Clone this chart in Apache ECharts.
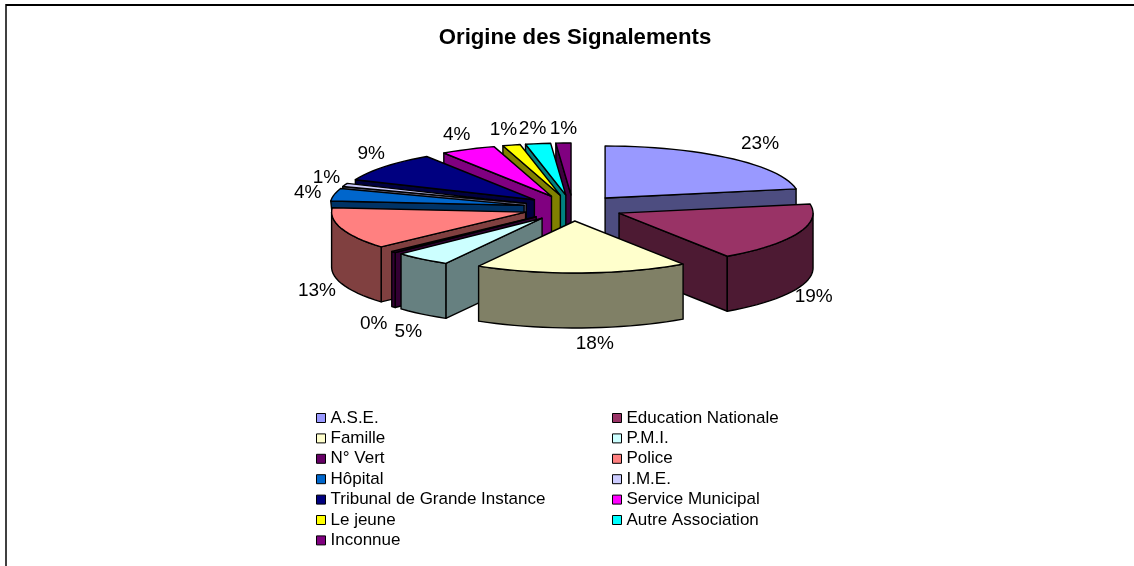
<!DOCTYPE html>
<html><head><meta charset="utf-8">
<style>html,body{margin:0;padding:0;background:#fff}#c{width:1134px;height:566px}</style>
<script src="https://cdn.jsdelivr.net/npm/echarts@6/dist/echarts.min.js"></script>
</head><body><div id="c"></div>
<script>
const categories = ['A.S.E.','Education Nationale','Famille','P.M.I.','N° Vert','Police','Hôpital','I.M.E.','Tribunal de Grande Instance','Service Municipal','Le jeune','Autre Association','Inconnue'];
const values = [22.6,18.5,17.5,4.6,0.4,12.6,3.8,1.0,9.0,4.4,1.4,2.0,1.2];
const colors = ['#9999FF','#993366','#FFFFCC','#CCFFFF','#660066','#FF8080','#0066CC','#CCCCFF','#000080','#FF00FF','#FFFF00','#00FFFF','#800080'];
const sideColors = ['#4D4D80','#4D1A33','#808066','#668080','#330033','#804040','#003366','#666680','#000040','#800080','#808000','#008080','#400040'];
const paintOrder = [12,11,10,9,8,7,6,5,4,3,0,1,2];
const labelNudgeX = [15,-6,12,1,-2,-2,-3,4,5,-1,-2,-2,1];
const labelNudgeY = [-2,2,0,5,6,2,1,-1,-3,0,0,1,2];

const CX=573, CY=208, RX=194, RY=52, DEPTH=55, EX=50, EY=13, LRX=218, LRY=68, WARP=3.5;
const total = values.reduce((a,b)=>a+b,0);
const cum=[]; values.reduce((a,v,i)=>{cum[i]=a;return a+v;},0);
const rad=d=>d*Math.PI/180;
// The reference's 3-D view pulls angles slightly towards the viewer side.
const view=d=>d-WARP*Math.sin(rad(d/2));

function pieceOf(i){
  const a0=view(cum[i]/total*360), a1=view((cum[i]+values[i])/total*360), mid=(a0+a1)/2;
  const ax=CX+EX*Math.sin(rad(mid)), ay=CY-EY*Math.cos(rad(mid));
  const pt=d=>[ax+RX*Math.sin(rad(d)), ay-RY*Math.cos(rad(d))];
  const down=p=>[p[0],p[1]+DEPTH];
  const n=Math.max(2,Math.ceil((a1-a0)/3));
  const arc=[]; for(let k=0;k<=n;k++) arc.push(a0+(a1-a0)*k/n);
  return {a0,a1,mid,ax,ay,pt,down,arc};
}
function poly(points,fill){
  return {type:'polygon',shape:{points},style:{fill,stroke:'#000',lineWidth:1.4,lineJoin:'round'}};
}
function renderSlice(i){
  const s=pieceOf(i), A=[s.ax,s.ay], top=colors[i], side=sideColors[i];
  const P0=s.pt(s.a0), P1=s.pt(s.a1);
  const kids=[];
  if(Math.sin(rad(s.a0))<0){
    // A wall just behind the pie's leftmost edge is tucked in so its outline does not double that edge.
    const foot=s.down(P0);
    if(s.a0>270&&s.a0<285) foot[0]+=6;
    kids.push(poly([A,P0,foot,s.down(A)],side));
  }
  if(Math.sin(rad(s.a1))>0) kids.push(poly([A,P1,s.down(P1),s.down(A)],side));
  const f=s.arc.filter(d=>d>=90&&d<=270);
  const lo=Math.max(s.a0,90), hi=Math.min(s.a1,270);
  if(hi>lo){
    const ds=[lo,...f.filter(d=>d>lo&&d<hi),hi];
    const upper=ds.map(s.pt), lower=ds.map(d=>s.down(s.pt(d))).reverse();
    kids.push(poly(upper.concat(lower),side));
  }
  kids.push(poly([A].concat(s.arc.map(s.pt)),top));
  const c=Math.cos(rad(s.mid));
  kids.push({type:'text',style:{
    x:s.ax+LRX*Math.sin(rad(s.mid))+labelNudgeX[i],
    y:s.ay-LRY*c+(c<0?DEPTH:0)+labelNudgeY[i],
    text:Math.round(values[i]/total*100)+'%',
    fill:'#000',font:'19px "Liberation Sans"',align:'center',verticalAlign:'middle'}});
  return {type:'group',children:kids};
}
const series=paintOrder.map(i=>({
  type:'custom',name:categories[i],coordinateSystem:'none',
  itemStyle:{color:colors[i]},data:[[values[i]]],silent:true,animation:false,
  renderItem:()=>renderSlice(i)
}));
const legendBase={orient:'vertical',icon:'rect',itemWidth:9,itemHeight:9,itemGap:0.4,padding:0,
  selectedMode:false,itemStyle:{borderColor:'#000',borderWidth:1},
  textStyle:{fontFamily:'Liberation Sans',fontSize:17,color:'#000',height:20,lineHeight:20}};
const chart=echarts.init(document.getElementById('c'),null,{renderer:'canvas'});
chart.setOption({
  animation:false,backgroundColor:'#fff',
  title:{text:'Origine des Signalements',left:575,top:27,textAlign:'center',padding:0,
    textStyle:{fontFamily:'Liberation Sans',fontWeight:'bold',fontSize:22.2,color:'#000'}},
  legend:[
    Object.assign({},legendBase,{left:316,top:408,data:categories.filter((_,i)=>i%2===0)}),
    Object.assign({},legendBase,{left:612,top:408,data:categories.filter((_,i)=>i%2===1)})
  ],
  graphic:[
    {type:'line',shape:{x1:6,y1:5,x2:1134,y2:5},style:{stroke:'#000',lineWidth:2}},
    {type:'line',shape:{x1:6,y1:4,x2:6,y2:566},style:{stroke:'#000',lineWidth:1.5}}
  ],
  series
});
</script></body></html>
